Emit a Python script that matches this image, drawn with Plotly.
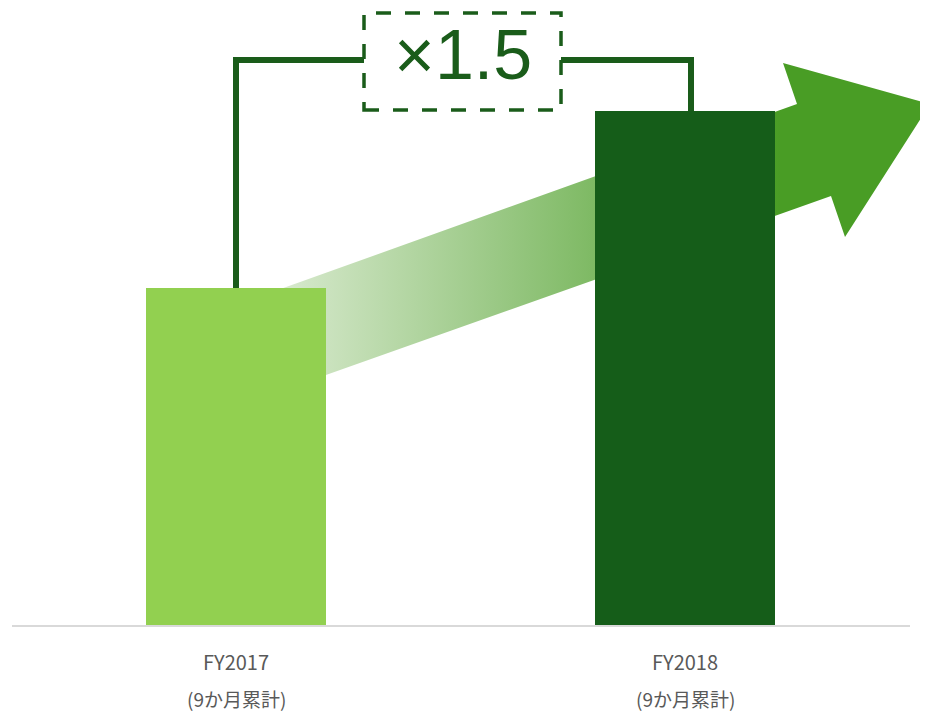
import plotly.graph_objects as go

# ---- data ----
categories = ["FY2017", "FY2018"]
sub_labels = ["(9か月累計)", "(9か月累計)"]
values = [100.0, 152.5]
ratio_label = "×1.5"

bar_colors = ["#92d050", "#155d19"]
line_color = "#1a5c1a"
head_color = "#499d25"

OFF = 8                      # page body margin
W, H = 928 - OFF, 714 - OFF
PLOT_H = 625 - OFF
B_MARGIN = H - PLOT_H
X0_PX, X1_PX = 236, 685      # reference pixel centres of the two bars
YMAX = values[0] * PLOT_H / 337.0

def px2x(px):
    return (px - X0_PX) / (X1_PX - X0_PX)

def py2y(py):
    return (625 - py) / PLOT_H * YMAX

x_pos = [0, 1]
x_range = [px2x(OFF), px2x(928)]
fig = go.Figure()

# gradient arrow on the base axes (below the bars)
arrow_px = [(250, 300), (797, 104), (783, 63), (930, 104), (845, 237), (831, 196), (250, 402), (250, 300)]
fig.add_trace(go.Scatter(
    x=[px2x(p[0]) for p in arrow_px],
    y=[py2y(p[1]) for p in arrow_px],
    mode="none", fill="toself",
    fillgradient=dict(type="horizontal",
                      colorscale=[[0, "rgb(215,233,205)"], [1, head_color]],
                      start=px2x(283), stop=px2x(780)),
    hoverinfo="skip", showlegend=False, xaxis="x", yaxis="y",
))

# bars on the overlaying axes (drawn above the arrow)
fig.add_trace(go.Bar(
    x=x_pos, y=values, width=180 / (X1_PX - X0_PX),
    marker=dict(color=bar_colors, line=dict(width=0)),
    showlegend=False, hoverinfo="skip", xaxis="x2", yaxis="y2",
))

level = py2y(60)
shapes = [
    dict(type="line", xref="x", yref="paper", x0=px2x(12), x1=px2x(910), y0=-1.0 / PLOT_H, y1=-1.0 / PLOT_H,
         line=dict(color="#d9d9d9", width=2), layer="below"),
    dict(type="path", xref="x2", yref="y2",
         path=f"M {x_pos[0]},{values[0]} L {x_pos[0]},{level} L {px2x(364)},{level}",
         line=dict(color=line_color, width=6)),
    dict(type="path", xref="x2", yref="y2",
         path=f"M {px2x(561)},{level} L {px2x(691)},{level} L {px2x(691)},{values[1]}",
         line=dict(color=line_color, width=6)),
    dict(type="rect", xref="x2", yref="y2", x0=px2x(364), x1=px2x(561), y0=py2y(110), y1=py2y(13),
         line=dict(color=line_color, width=3.5, dash="15px,14px")),
]

annotations = [
    dict(x=px2x(463), y=py2y(54.5), xref="x2", yref="y2", text=ratio_label, showarrow=False,
         font=dict(family="Liberation Sans", size=70, color=line_color), xanchor="center", yanchor="middle"),
]
for xp, s in zip(x_pos, sub_labels):
    annotations.append(dict(x=xp, y=-B_MARGIN / PLOT_H, xref="x2", yref="paper", text=s,
                            showarrow=False, xanchor="center", yanchor="bottom",
                            font=dict(family="Noto Sans CJK JP", size=19, color="#595959")))

common = dict(showgrid=False, zeroline=False, showline=False, ticks="", fixedrange=True)
fig.update_layout(
    width=W, height=H,
    margin=dict(l=0, r=0, t=0, b=B_MARGIN),
    paper_bgcolor="white", plot_bgcolor="white",
    shapes=shapes, annotations=annotations,
    xaxis=dict(range=x_range, showticklabels=False, **common),
    yaxis=dict(range=[0, YMAX], showticklabels=False, **common),
    xaxis2=dict(range=x_range, overlaying="x", side="bottom", tickvals=x_pos, ticktext=categories,
                tickfont=dict(family="Noto Sans CJK JP", size=20, color="#595959"),
                ticklabelstandoff=24, **common),
    yaxis2=dict(range=[0, YMAX], overlaying="y", showticklabels=False, **common),
)

fig.write_html("out.html")
